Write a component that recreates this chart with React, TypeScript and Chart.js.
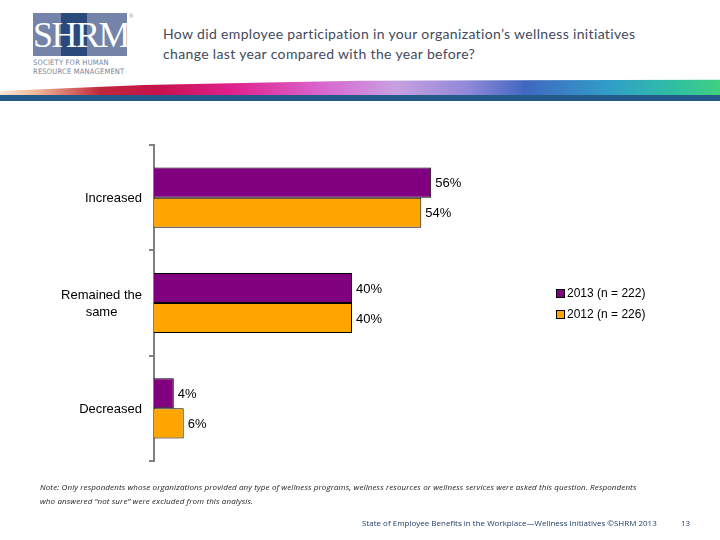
import React, { useEffect, useRef } from "react";
import { Chart, registerables } from "chart.js";

Chart.register(...registerables);

const categories: string[][] = [["Increased"], ["Remained the", "same"], ["Decreased"]];
const series2013: number[] = [56, 40, 4];
const series2012: number[] = [54, 40, 6];
const seriesLabels: string[] = ["2013 (n = 222)", "2012 (n = 226)"];
const seriesColors: string[] = ["#800080", "#FFA500"];

const FONT = "'Liberation Sans', Arial, sans-serif";

const valueLabels = {
  id: "valueLabels",
  afterDatasetsDraw(chart: any) {
    const ctx = chart.ctx;
    ctx.save();
    ctx.font = `13px ${FONT}`;
    ctx.fillStyle = "#000";
    ctx.textAlign = "left";
    ctx.textBaseline = "middle";
    chart.data.datasets.forEach((ds: any, di: number) => {
      const meta = chart.getDatasetMeta(di);
      meta.data.forEach((bar: any, i: number) => {
        ctx.fillText(`${ds.data[i]}%`, bar.x + 4, bar.y + 1);
      });
    });
    ctx.restore();
  },
};

const categoryLabels = {
  id: "categoryLabels",
  afterDraw(chart: any) {
    const ctx = chart.ctx;
    const y = chart.scales.y;
    ctx.save();
    ctx.font = `13px ${FONT}`;
    ctx.fillStyle = "#000";
    ctx.textAlign = "center";
    ctx.textBaseline = "middle";
    const right = y.left - 7;
    chart.data.labels.forEach((lab: string[], i: number) => {
      const lines = Array.isArray(lab) ? lab : [lab];
      const widest = Math.max(...lines.map((l) => ctx.measureText(l).width));
      const cx = right - widest / 2;
      const lh = 17;
      const cy = y.getPixelForValue(i) + 1;
      lines.forEach((l, k) => {
        ctx.fillText(l, cx, cy + (k - (lines.length - 1) / 2) * lh);
      });
    });
    ctx.restore();
  },
};

const customLegend = {
  id: "customLegend",
  afterDraw(chart: any) {
    const ctx = chart.ctx;
    ctx.save();
    ctx.font = `12px ${FONT}`;
    ctx.textAlign = "left";
    ctx.textBaseline = "middle";
    chart.data.datasets.forEach((ds: any, i: number) => {
      const cy = 294 + i * 21;
      ctx.fillStyle = ds.backgroundColor;
      ctx.fillRect(556.5, cy - 4.5, 8, 8);
      ctx.strokeStyle = "#000";
      ctx.lineWidth = 1;
      ctx.strokeRect(556.5, cy - 4.5, 8, 8);
      ctx.fillStyle = "#000";
      ctx.fillText(ds.label, 567, cy);
    });
    ctx.restore();
  },
};

function Logo() {
  return (
    <div style={{ position: "absolute", left: 33, top: 13, width: 100, height: 64 }}>
      <div
        style={{
          position: "absolute",
          left: 0,
          top: 0,
          width: 94,
          height: 43,
          background: "#7384a8",
        }}
      />
      <div
        style={{
          position: "absolute",
          left: 28,
          top: 0,
          width: 26,
          height: 43,
          background: "#2b4a7c",
        }}
      />
      <div
        style={{
          position: "absolute",
          left: 0,
          top: 1,
          width: 94,
          height: 43,
          color: "#fff",
          fontFamily: "'Liberation Serif', 'DejaVu Serif', serif",
          fontSize: 36,
          lineHeight: "43px",
          textAlign: "center",
          letterSpacing: -1.5,
          whiteSpace: "nowrap",
        }}
      >
        SHRM
      </div>
      <div
        style={{
          position: "absolute",
          left: 96,
          top: 0,
          fontSize: 6,
          color: "#8090b0",
          fontFamily: FONT,
        }}
      >
        ®
      </div>
      <div
        style={{
          position: "absolute",
          left: 0,
          top: 46,
          width: 96,
          fontSize: 7.5,
          lineHeight: "8.5px",
          color: "#7a8498",
          fontFamily: "'Liberation Sans Narrow', 'DejaVu Sans Condensed', sans-serif",
          whiteSpace: "nowrap",
          letterSpacing: 0.2,
        }}
      >
        SOCIETY FOR HUMAN
        <br />
        RESOURCE MANAGEMENT
      </div>
    </div>
  );
}

export default function App() {
  const canvasRef = useRef<HTMLCanvasElement | null>(null);

  useEffect(() => {
    document.body.style.margin = "0";
    const canvas = canvasRef.current;
    if (!canvas) return;
    const chart = new Chart(canvas, {
      type: "bar",
      data: {
        labels: categories as any,
        datasets: [
          {
            label: seriesLabels[0],
            data: series2013,
            backgroundColor: seriesColors[0],
            borderColor: "#000",
            borderWidth: 1,
            categoryPercentage: 0.571,
            barPercentage: 1.0,
          },
          {
            label: seriesLabels[1],
            data: series2012,
            backgroundColor: seriesColors[1],
            borderColor: "#000",
            borderWidth: 1,
            categoryPercentage: 0.571,
            barPercentage: 1.0,
          },
        ],
      },
      options: {
        indexAxis: "y",
        animation: false,
        responsive: false,
        maintainAspectRatio: false,
        layout: { padding: { left: 149, top: 145, right: 71, bottom: 79 } },
        plugins: {
          legend: { display: false },
          tooltip: { enabled: false },
          title: { display: false },
        },
        scales: {
          x: { display: false, min: 0, max: 100 },
          y: {
            type: "category",
            grid: {
              offset: true,
              drawOnChartArea: false,
              drawTicks: true,
              tickLength: 5,
              color: "#808080",
              lineWidth: 2,
            },
            border: { display: true, color: "#808080", width: 2 },
            ticks: { display: false },
          },
        },
      },
      plugins: [valueLabels, categoryLabels, customLegend],
    });
    return () => chart.destroy();
  }, []);

  return (
    <div
      style={{
        position: "fixed",
        left: 0,
        top: 0,
        width: 720,
        height: 540,
        background: "#fff",
        overflow: "hidden",
      }}
    >
      <Logo />
      <div
        style={{
          position: "absolute",
          left: 163,
          top: 24,
          width: 560,
          fontFamily: "Lato, 'Open Sans', sans-serif",
          fontSize: 14,
          lineHeight: "20px",
          color: "#3f4a5c",
          letterSpacing: 0.35,
          whiteSpace: "nowrap",
        }}
      >
        How did employee participation in your organization’s wellness initiatives
        <br />
        change last year compared with the year before?
      </div>
      <div
        style={{
          position: "absolute",
          left: 0,
          top: 79,
          width: 720,
          height: 17,
          background:
            "linear-gradient(90deg, #fbe7da 0%, #f0b898 5%, #c0283c 14%, #c8104c 22%, #e0208c 32%, #d868d0 45%, #c8a0e0 55%, #9088d8 65%, #4068c0 73%, #30a0c8 85%, #30c0a0 94%, #40d080 100%)",
          clipPath: "polygon(0 70%, 20% 35%, 50% 10%, 100% 5%, 100% 100%, 0 100%)",
        }}
      />
      <div
        style={{
          position: "absolute",
          left: 0,
          top: 95,
          width: 720,
          height: 6,
          background: "#245a8a",
        }}
      />
      <canvas
        ref={canvasRef}
        width={720}
        height={540}
        style={{ position: "absolute", left: 0, top: 0, width: 720, height: 540 }}
      />
      <div
        style={{
          position: "absolute",
          left: 40,
          top: 480,
          width: 660,
          fontFamily: "'Open Sans', sans-serif",
          fontStyle: "italic",
          fontSize: 8,
          lineHeight: "14px",
          color: "#222",
          letterSpacing: 0.12,
          whiteSpace: "nowrap",
        }}
      >
        Note: Only respondents whose organizations provided any type of wellness programs, wellness resources or wellness services were asked this question. Respondents
        <br />
        who answered “not sure” were excluded from this analysis.
      </div>
      <div
        style={{
          position: "absolute",
          left: 362,
          top: 517,
          fontFamily: "'Open Sans', sans-serif",
          fontSize: 8,
          color: "#1f3d66",
          whiteSpace: "nowrap",
        }}
      >
        State of Employee Benefits in the Workplace—Wellness Initiatives ©SHRM 2013
      </div>
      <div
        style={{
          position: "absolute",
          left: 681,
          top: 517,
          fontFamily: "'Open Sans', sans-serif",
          fontSize: 8,
          color: "#1f3d66",
        }}
      >
        13
      </div>
    </div>
  );
}
